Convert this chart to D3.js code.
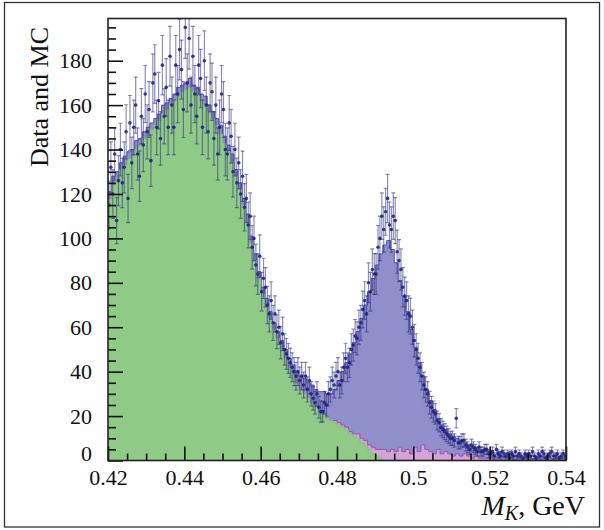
<!DOCTYPE html>
<html>
<head>
<meta charset="utf-8">
<script src="https://cdn.jsdelivr.net/npm/d3@7"></script>
<style>
  html, body { margin: 0; padding: 0; background: #fff; }
  svg { display: block; }
  text { font-family: "Liberation Serif", "Times New Roman", serif; fill: #111; }
</style>
</head>
<body>
<svg id="chart" width="604" height="530"></svg>
<script>
// ---- axis ranges and labels ----
const xRange = [0.42, 0.54];
const mcBinWidth = 0.001;     // MC histograms
const dataBinWidth = 0.0005;  // data points
const yRange = [0, 199];
const xTickLabels = ["0.42", "0.44", "0.46", "0.48", "0.5", "0.52", "0.54"];
const yTickLabels = ["0", "20", "40", "60", "80", "100", "120", "140", "160", "180"];

// green MC component (120 bins)
const green = [
  118,124,127,131,133,136,137,140,142,145, 146,149,151,153,156,158,160,162,164,166,
  167,168,166,165,162,160,157,154,151,147, 143,139,134,128,122,115,107,98,90,82,
  75,69,64,59,55,50,46,42,39,35, 32,30,28,26,24,22,21,19,18,17,
  16,15,14,12,11,10,8,7,5,3, 2,1,0,0,0,0,0,0,0,0,
  0,0,0,0,0,0,0,0,0,0, 0,0,0,0,0,0,0,0,0,0,
  0,0,0,0,0,0,0,0,0,0, 0,0,0,0,0,0,0,0,0,0
];
// pink MC component (120 bins)
const pink = [
  0,0,0,0,0,0,0,0,0,0, 0,0,0,0,0,0,0,0,0,0,
  0,0,0,0,0,0,0,0,0,0, 0,0,0,0,0,0,0,0,0,0,
  0,0,0,0,0,0,0,0,0,0, 0,0,0,0,0,0,0,0,0,1,
  1,1,1,1,1,2,2,2,2,3, 3,4,5,4,5,4,6,4,5,3,
  6,4,7,5,4,3,5,3,4,3, 2,3,2,3,2,1,2,1,1,1,
  1,0,1,0,0,1,0,0,0,1, 0,0,0,0,1,0,0,0,0,0
];
// purple (signal) MC component (120 bins)
const signal = [
  3,4,3,3,4,3,3,4,3,3, 4,3,3,3,4,3,3,3,4,3,
  3,4,3,3,3,4,3,3,3,4, 3,3,4,3,3,3,4,3,3,3,
  3,4,3,3,3,4,4,4,4,5, 6,7,7,8,8,9,10,11,12,14,
  19,24,29,35,41,46,54,61,69,76, 83,88,92,95,90,85,75,70,62,56,
  45,40,31,27,23,20,14,13,10,9, 9,7,7,5,5,5,4,4,4,3,
  3,2,3,2,2,3,2,2,1,2, 2,1,2,2,1,2,1,1,2,1
];
// data points (240 bins)
const data = [
  115,132, 120,138, 108,126, 140,125, 132,148, 118,152, 134,150, 160,138, 128,155, 142,165,
  148,158, 135,170, 174,150, 162,145, 178,155, 168,150, 182,160, 150,178, 165,185, 176,158,
  195,170, 190,160, 182,165, 155,178, 172,150, 180,160, 148,170, 166,145, 160,138, 150,165,
  158,140, 138,152, 146,130, 140,125, 134,120, 128,114, 118,106, 110,96, 100,88, 84,92,
  76,82, 78,70, 66,72, 62,66, 58,60, 53,57, 50,48, 46,44, 42,40, 38,40,
  36,38, 34,38, 32,36, 30,28, 26,30, 24,22, 22,26, 25,30, 32,36, 34,38,
  40,34, 36,42, 46,42, 44,50, 52,56, 55,60, 62,68, 72,66, 80,76, 86,84,
  84,96, 100,110, 104,112, 118,106, 104,110, 108,94, 90,86, 78,74, 72,66, 65,60,
  54,50, 46,42, 38,34, 32,30, 26,24, 22,21, 18,17, 15,14, 13,12, 11,10,
  10,9, 19,8, 8,9, 9,7, 6,5, 7,6, 5,4, 6,4, 4,5, 5,3,
  3,4, 2,5, 3,2, 4,3, 2,3, 1,3, 2,4, 2,3, 2,1, 3,2,
  3,2, 4,2, 1,3, 2,4, 3,1, 2,3, 4,2, 2,3, 1,2, 3,2
];

// ---- layout ----
const svg = d3.select("#chart");
const L = 108, R = 566, T = 18.5, B = 460.5;
const x = d3.scaleLinear().domain(xRange).range([L, R]);
const y = d3.scaleLinear().domain(yRange).range([B, T]);

// outer frame
svg.append("rect").attr("x", 4.5).attr("y", 2.5).attr("width", 595).attr("height", 524.5)
  .attr("fill", "none").attr("stroke", "#333").attr("stroke-width", 1.3);

svg.append("clipPath").attr("id", "clip").append("rect")
  .attr("x", L).attr("y", T).attr("width", R - L).attr("height", B - T);

const plot = svg.append("g").attr("clip-path", "url(#clip)");

// stacked MC histograms
const rows = green.map((g, i) => ({ i, green: g, pink: pink[i], signal: signal[i] }));
const series = d3.stack().keys(["green", "pink", "signal"])(rows);
const n = rows.length;
const edge = i => xRange[0] + i * mcBinWidth;

function stepPoints(s) {
  const pts = s.map((d, i) => ({ x: edge(i), y1: d[1] }));
  pts.push({ x: edge(n), y1: pts[pts.length - 1].y1 });
  return pts;
}
const area = d3.area().curve(d3.curveStepAfter)
  .x(d => x(d.x)).y0(() => y(0)).y1(d => y(d.y1));
const line = d3.line().curve(d3.curveStepAfter)
  .x(d => x(d.x)).y(d => y(d.y1));

const fills = { green: "#8fca86", pink: "#d4a4d6", signal: "#8f8fcc" };
const strokes = { green: "#80bf78", pink: "#9c50aa", signal: "#5050a8" };
["signal", "pink", "green"].forEach(key => {
  const s = series.find(q => q.key === key);
  const pts = stepPoints(s);
  plot.append("path").datum(pts).attr("d", area).attr("fill", fills[key]);
  plot.append("path").datum(pts).attr("d", line).attr("fill", "none")
    .attr("stroke", strokes[key]).attr("stroke-width", key === "green" ? 0.8 : 1);
});

// data with error bars
const pts = data.map((v, i) => ({ xc: xRange[0] + (i + 0.5) * dataBinWidth, v, e: Math.sqrt(v) }));
const eb = plot.append("g").attr("stroke", "rgba(50,50,125,0.55)").attr("stroke-width", 1.2);
pts.forEach(d => {
  const xc = x(d.xc), lo = y(d.v - d.e), hi = y(d.v + d.e);
  eb.append("line").attr("x1", xc).attr("x2", xc).attr("y1", lo).attr("y2", hi);
  eb.append("line").attr("x1", xc - 2).attr("x2", xc + 2).attr("y1", lo).attr("y2", lo);
  eb.append("line").attr("x1", xc - 2).attr("x2", xc + 2).attr("y1", hi).attr("y2", hi);
});
plot.append("g").selectAll("circle").data(pts).join("circle")
  .attr("cx", d => x(d.xc)).attr("cy", d => y(d.v)).attr("r", 1.8)
  .attr("fill", "#1d1d80").attr("fill-opacity", 0.85);

// axes
const fontSize = 22;
const xMajor = xTickLabels.map(Number);
const xMinor = d3.range(0, 25).map(k => xRange[0] + k * 0.005)
  .filter(v => !xMajor.some(m => Math.abs(m - v) < 1e-9));
const yMajor = yTickLabels.map(Number);
const yMinor = d3.range(0, 40).map(k => k * 5).filter(v => v % 20 !== 0 && v < yRange[1]);

svg.append("g").attr("transform", `translate(0,${B})`)
  .call(d3.axisBottom(x).tickValues(xMajor).tickSize(-14).tickPadding(9)
    .tickFormat((d, i) => xTickLabels[i]));
svg.append("g").attr("transform", `translate(0,${B})`)
  .call(d3.axisBottom(x).tickValues(xMinor).tickSize(-7).tickFormat(""));
const gy = svg.append("g").attr("transform", `translate(${L},0)`)
  .call(d3.axisLeft(y).tickValues(yMajor).tickSize(-15).tickPadding(16)
    .tickFormat((d, i) => yTickLabels[i]));
svg.append("g").attr("transform", `translate(${L},0)`)
  .call(d3.axisLeft(y).tickValues(yMinor).tickSize(-8).tickFormat(""));

svg.selectAll(".domain").remove();
svg.selectAll(".tick line").attr("stroke", "#111").attr("stroke-width", 1.6);
svg.selectAll(".tick text").attr("font-size", fontSize)
  .attr("font-family", "'Liberation Serif', serif").attr("fill", "#111");
gy.selectAll(".tick text").filter(d => d === 0).attr("dy", "0.0em");

// plot frame
svg.append("rect").attr("x", L).attr("y", T).attr("width", R - L).attr("height", B - T)
  .attr("fill", "none").attr("stroke", "#222").attr("stroke-width", 1.6);

// axis titles
svg.append("text").attr("transform", "translate(48,97) rotate(-90)")
  .attr("text-anchor", "middle").attr("font-size", 26).text("Data and MC");

const xt = svg.append("text").attr("x", 585).attr("y", 515).attr("text-anchor", "end").attr("font-size", 28);
xt.append("tspan").attr("font-style", "italic").text("M");
xt.append("tspan").attr("font-style", "italic").attr("font-size", 20).attr("dy", 5).text("K");
xt.append("tspan").attr("dy", -5).text(", GeV");
</script>
</body>
</html>
